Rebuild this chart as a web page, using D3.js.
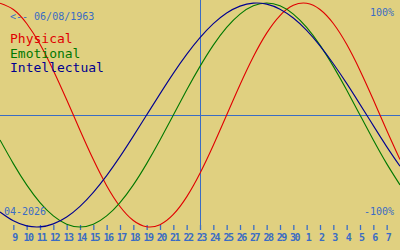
<!DOCTYPE html>
<html>
<head>
<meta charset="utf-8">
<script src="https://cdn.jsdelivr.net/npm/d3@7"></script>
<style>
  body { margin: 0; background: #e0d080; }
  svg { display: block; }
  text { font-family: "DejaVu Sans Mono", monospace; }
</style>
</head>
<body>
<svg width="400" height="250"></svg>
<script>
// one value per day, 8 April 2026 .. 8 May 2026
const physical = [0.998, 0.942, 0.817, 0.631, 0.398, 0.136, -0.136, -0.398, -0.631, -0.817,
  -0.942, -0.998, -0.979, -0.888, -0.731, -0.520, -0.270, 0, 0.270, 0.520,
  0.731, 0.888, 0.979, 0.998, 0.942, 0.817, 0.631, 0.398, 0.136, -0.136, -0.398];
const emotional = [-0.223, -0.434, -0.624, -0.782, -0.901, -0.975, -1, -0.975, -0.901, -0.782,
  -0.624, -0.434, -0.223, 0, 0.223, 0.434, 0.624, 0.782, 0.901, 0.975,
  1, 0.975, 0.901, 0.782, 0.624, 0.434, 0.223, 0, -0.223, -0.434, -0.624];
const intellectual = [-0.866, -0.945, -0.990, -0.999, -0.972, -0.910, -0.815, -0.690, -0.541, -0.372,
  -0.189, 0, 0.189, 0.372, 0.541, 0.690, 0.815, 0.910, 0.972, 0.999,
  0.990, 0.945, 0.866, 0.756, 0.618, 0.458, 0.282, 0.095, -0.095, -0.282, -0.458];

const dayLabels = ["9","10","11","12","13","14","15","16","17","18","19","20","21","22","23",
  "24","25","26","27","28","29","30","1","2","3","4","5","6","7"];
const series = [
  {name: "Physical", values: physical, color: "#e00000"},
  {name: "Emotional", values: emotional, color: "#007800"},
  {name: "Intellectual", values: intellectual, color: "#000090"}
];
const birthLabel = "<-- 06/08/1963";
const monthLabel = "04-2026";
const todayIndex = 15;

const svg = d3.select("svg");
const blue = "#3a6cc4";

const x = d3.scaleLinear().domain([0, 30]).range([0, 400]);
const y = d3.scaleLinear().domain([-1, 1]).range([227, 3]);

// midline and today line
svg.append("line")
  .attr("x1", 0).attr("x2", 400)
  .attr("y1", y(0) + 0.5).attr("y2", y(0) + 0.5)
  .attr("stroke", blue);
svg.append("line")
  .attr("x1", x(todayIndex) + 0.5).attr("x2", x(todayIndex) + 0.5)
  .attr("y1", 0).attr("y2", 230)
  .attr("stroke", blue);

// day axis
const axis = svg.append("g")
  .attr("transform", "translate(0,225)")
  .call(d3.axisBottom(x)
    .tickValues(d3.range(1, 30))
    .tickSize(5)
    .tickPadding(4)
    .tickFormat((d, i) => dayLabels[i]));
axis.select(".domain").remove();
axis.selectAll("line").attr("stroke", blue).attr("stroke-width", 1.3);
axis.selectAll("text")
  .attr("fill", blue)
  .attr("dx", "0.75px")
  .style("font-size", "10px")
  .style("font-weight", "bold")
  .style("letter-spacing", "-1.5px")
  .style("font-family", "DejaVu Sans Mono, monospace");

// curves
const line = d3.line()
  .x((d, i) => x(i))
  .y(d => y(d))
  .curve(d3.curveNatural);

svg.selectAll(".curve")
  .data(series)
  .enter().append("path")
    .attr("class", "curve")
    .attr("d", d => line(d.values))
    .attr("fill", "none")
    .attr("stroke", d => d.color)
    .attr("stroke-width", 1.1);

// legend
svg.selectAll(".legend")
  .data(series)
  .enter().append("text")
    .attr("class", "legend")
    .attr("x", 10)
    .attr("y", (d, i) => 43 + i * 14.7)
    .attr("fill", d => d.color)
    .style("font-size", "13px")
    .text(d => d.name);

svg.append("text")
  .attr("x", 10).attr("y", 20)
  .attr("fill", blue)
  .style("font-size", "10px")
  .text(birthLabel);

svg.append("text")
  .attr("x", 394).attr("y", 16)
  .attr("text-anchor", "end")
  .attr("fill", blue)
  .style("font-size", "10px")
  .text("100%");

svg.append("text")
  .attr("x", 394).attr("y", 215)
  .attr("text-anchor", "end")
  .attr("fill", blue)
  .style("font-size", "10px")
  .text("-100%");

svg.append("text")
  .attr("x", 4).attr("y", 215)
  .attr("fill", blue)
  .style("font-size", "10px")
  .text(monthLabel);
</script>
</body>
</html>
